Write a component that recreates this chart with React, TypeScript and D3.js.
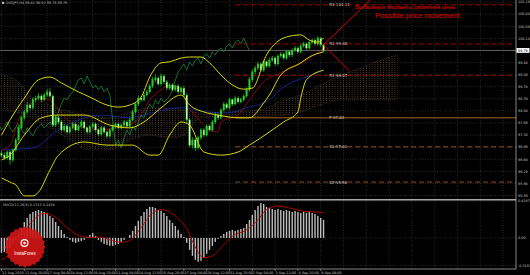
import React, { useEffect } from "react";
import * as d3 from "d3";

const opens = [96.80,96.76,96.68,96.85,96.62,96.91,97.20,97.55,97.84,98.01,98.21,98.13,98.36,98.41,98.47,98.36,98.50,98.59,98.47,97.63,97.84,97.72,97.49,97.60,97.43,97.55,97.66,97.49,97.60,97.72,97.55,97.43,97.58,97.66,97.49,97.37,97.55,97.43,97.31,97.49,97.58,97.66,97.55,97.63,97.72,97.60,97.78,98.01,98.24,98.41,98.36,98.50,98.59,98.76,98.94,98.99,98.82,99.05,98.88,98.70,98.79,98.65,98.76,98.59,98.70,98.50,97.78,97.05,97.20,96.97,97.26,97.49,97.34,97.60,97.49,97.72,97.92,97.84,98.07,98.24,98.13,98.36,98.24,98.41,98.30,98.36,98.47,98.65,98.94,99.17,99.28,99.40,99.22,99.46,99.34,99.51,99.57,99.40,99.63,99.69,99.57,99.75,99.66,99.80,99.86,99.75,99.92,99.98,99.86,100.03,100.09,99.98,100.15,99.95];
const highs = [96.88,96.84,96.90,96.92,96.96,97.26,97.62,97.90,98.08,98.30,98.26,98.42,98.48,98.55,98.52,98.56,98.68,98.70,98.52,97.92,97.90,97.78,97.66,97.65,97.60,97.72,97.70,97.64,97.78,97.76,97.58,97.63,97.72,97.70,97.53,97.60,97.58,97.46,97.53,97.63,97.70,97.70,97.68,97.78,97.76,97.84,98.08,98.30,98.48,98.46,98.56,98.66,98.82,99.02,99.10,99.04,99.12,99.10,98.94,98.85,98.84,98.80,98.82,98.75,98.76,98.55,97.84,97.28,97.25,97.32,97.55,97.54,97.66,97.65,97.78,98.00,97.96,98.12,98.30,98.28,98.42,98.40,98.48,98.46,98.42,98.52,98.72,99.02,99.24,99.35,99.46,99.44,99.52,99.50,99.58,99.63,99.62,99.68,99.74,99.72,99.80,99.80,99.85,99.92,99.90,99.97,100.04,100.02,100.08,100.14,100.13,100.20,100.18,99.98];
const lows = [96.70,96.62,96.63,96.48,96.56,96.86,97.15,97.50,97.78,97.96,98.07,98.08,98.30,98.36,98.30,98.32,98.44,98.42,97.58,97.58,97.66,97.44,97.44,97.38,97.38,97.50,97.44,97.45,97.55,97.50,97.38,97.38,97.53,97.44,97.31,97.32,97.38,97.26,97.27,97.44,97.53,97.50,97.50,97.58,97.55,97.55,97.73,97.96,98.18,98.30,98.31,98.45,98.54,98.70,98.88,98.77,98.78,98.82,98.64,98.65,98.60,98.60,98.54,98.53,98.44,97.70,96.98,96.95,96.88,96.92,97.20,97.28,97.30,97.44,97.44,97.66,97.78,97.80,98.02,98.08,98.08,98.18,98.20,98.25,98.26,98.31,98.42,98.60,98.88,99.10,99.22,99.16,99.17,99.28,99.29,99.46,99.34,99.35,99.58,99.52,99.52,99.60,99.60,99.75,99.70,99.70,99.87,99.80,99.82,99.98,99.93,99.93,99.90,99.74];
const closes = [96.76,96.68,96.85,96.62,96.91,97.20,97.55,97.84,98.01,98.21,98.13,98.36,98.41,98.47,98.36,98.50,98.59,98.47,97.63,97.84,97.72,97.49,97.60,97.43,97.55,97.66,97.49,97.60,97.72,97.55,97.43,97.58,97.66,97.49,97.37,97.55,97.43,97.31,97.49,97.58,97.66,97.55,97.63,97.72,97.60,97.78,98.01,98.24,98.41,98.36,98.50,98.59,98.76,98.94,98.99,98.82,99.05,98.88,98.70,98.79,98.65,98.76,98.59,98.70,98.50,97.78,97.05,97.20,96.97,97.26,97.49,97.34,97.60,97.49,97.72,97.92,97.84,98.07,98.24,98.13,98.36,98.24,98.41,98.30,98.36,98.47,98.65,98.94,99.17,99.28,99.40,99.22,99.46,99.34,99.51,99.57,99.40,99.63,99.69,99.57,99.75,99.66,99.80,99.86,99.75,99.92,99.98,99.86,100.03,100.09,99.98,100.15,99.95,99.79];

// Bollinger bands, read points [bar, price]
const bbUpper = [[0,97.34],[3,97.78],[8,98.41],[13,98.94],[17,99.02],[21,98.85],[27,98.59],[31,98.44],[37,98.21],[41,98.15],[45,98.21],[49,98.44],[52,99.02],[56,99.43],[59,99.46],[63,99.57],[66,99.60],[70,99.60],[73,99.43],[77,99.08],[80,98.85],[85,98.67],[88,98.70],[93,99.66],[100,100.18],[105,100.24],[108,100.09],[111,100.03],[113,100.15]];
const bbMiddle = [[0,96.62],[3,96.76],[8,97.34],[14,97.84],[20,97.92],[29,97.92],[38,97.63],[45,97.55],[50,97.72],[56,98.13],[63,98.50],[66,98.21],[71,98.01],[76,97.92],[83,97.84],[87,97.84],[92,98.27],[94,98.50],[98,99.08],[105,99.43],[108,99.60],[113,99.75]];
const bbLower = [[0,96.10],[3,95.98],[5,95.90],[8,95.58],[11,95.58],[13,95.69],[17,96.33],[20,96.76],[29,97.14],[37,97.05],[46,97.05],[52,96.76],[55,96.76],[59,97.34],[63,97.72],[66,97.63],[71,96.85],[77,96.76],[83,96.85],[87,97.05],[91,97.26],[94,97.43],[99,97.72],[104,98.01],[105,98.41],[107,98.94],[113,99.22]];
const tenkan = [[0,96.91],[3,97.05],[6,97.78],[10,98.21],[13,98.41],[17,98.36],[20,98.07],[24,97.72],[29,97.55],[35,97.49],[40,97.55],[45,97.63],[49,97.92],[52,98.36],[56,98.65],[59,98.79],[63,98.70],[65,98.21],[67,98.01],[70,97.72],[72,97.55],[76,97.43],[77,97.72],[83,97.92],[87,98.36],[92,98.88],[98,99.14],[106,99.46],[113,99.86]];
const kijun = [[0,96.91],[11,96.97],[20,97.49],[27,97.78],[35,97.92],[44,97.84],[50,97.92],[57,98.07],[63,98.13],[72,98.01],[79,97.98],[86,98.13],[94,98.36],[99,98.73],[104,98.94],[107,99.02],[113,99.22]];
const spanA = [[0,99.08],[5,98.94],[10,98.50],[17,98.21],[24,98.01],[31,97.92],[38,97.84],[45,98.01],[52,98.13],[59,98.13],[64,98.07],[70,97.98],[80,98.01],[91,98.07],[99,98.36],[105,98.50],[112,98.79],[119,99.08],[126,99.28],[133,99.51],[139,99.66]];
const spanB = [[0,98.07],[5,98.01],[10,97.84],[17,97.55],[24,97.20],[31,96.91],[38,96.91],[45,97.20],[52,97.34],[59,97.26],[64,97.34],[70,97.84],[80,97.84],[91,97.87],[99,97.92],[105,98.01],[112,98.21],[119,98.36],[126,98.36],[133,98.36],[139,98.36]];

const macdHist = [-0.174,-0.162,-0.139,-0.116,-0.070,-0.023,0.046,0.116,0.185,0.232,0.278,0.301,0.313,0.324,0.313,0.301,0.290,0.255,0.232,0.185,0.139,0.093,0.046,0.012,-0.023,-0.046,-0.058,-0.046,-0.035,-0.023,0.012,0.035,0.058,0.023,-0.023,-0.046,-0.070,-0.081,-0.093,-0.093,-0.081,-0.070,-0.046,-0.023,0.0,0.035,0.081,0.139,0.197,0.255,0.301,0.336,0.359,0.359,0.348,0.324,0.313,0.290,0.255,0.209,0.174,0.139,0.093,0.046,0.012,-0.058,-0.139,-0.209,-0.255,-0.278,-0.267,-0.232,-0.185,-0.139,-0.093,-0.046,-0.012,0.023,0.046,0.070,0.081,0.093,0.081,0.093,0.104,0.116,0.162,0.209,0.267,0.324,0.371,0.406,0.394,0.359,0.348,0.336,0.324,0.336,0.324,0.313,0.324,0.313,0.301,0.313,0.301,0.290,0.301,0.290,0.301,0.290,0.278,0.255,0.232,0.209];
const macdSignal = [[0,-0.255],[4,-0.150],[7,0.020],[11,0.200],[15,0.285],[18,0.260],[23,0.120],[27,0.030],[31,0.005],[35,0.010],[38,-0.023],[42,-0.050],[45,-0.030],[49,0.120],[53,0.290],[56,0.330],[60,0.280],[63,0.190],[65,0.110],[67,-0.040],[71,-0.230],[74,-0.210],[78,-0.080],[81,0.020],[86,0.093],[90,0.209],[93,0.330],[97,0.371],[101,0.348],[106,0.310],[111,0.300],[113,0.290]];

const timeLabels = ["12 Aug 2015","13 Aug 20:00","17 Aug 04:00","18 Aug 12:00","19 Aug 20:00","21 Aug 04:00","24 Aug 12:00","25 Aug 20:00","27 Aug 04:00","28 Aug 12:00","31 Aug 20:00","2 Sep 04:00","3 Sep 12:00","4 Sep 20:00","8 Sep 04:00"];
const priceTicks = [101.19,100.84,100.49,100.14,99.44,99.09,98.74,98.39,98.04,97.69,97.34,96.99,96.64,96.29,95.94,95.59];
const macdTicks = [0.4287, 0.0, -0.3197];
const macdTickLabels = ["0.4287", "0.00", "-0.3197"];
const pivotNames = ["R3","R2","R1","P","S1","S2"];
const pivotValues = [101.11,99.98,99.07,97.84,97.00,95.98];
const pivotColors = ["#b00000","#b00000","#b00000","#b87018","#9a5a28","#9a5a28"];
const currentPrice = 99.79;
// forecast path points [bar, price]
const forecastUp = [[113,99.95],[130,101.30]];
const forecastDown = [[113,99.95],[122,99.20]];

const FONT = "DejaVu Sans, sans-serif";

export default function App() {
  useEffect(() => {
    document.body.style.margin = "0";
    document.body.style.background = "#000";
  }, []);

  const x = d3.scaleLinear().domain([0, 180]).range([1.5, 514.5]);
  const y = d3.scaleLinear().domain([95.49, 101.25]).range([199, 0]);
  const ym = d3.scaleLinear().domain([-0.3615, 0.4287]).range([269, 201]);

  const line = (pts: number[][], sc = y) =>
    d3.line<number[]>().x(d => x(d[0])).y(d => sc(d[1])).curve(d3.curveMonotoneX)(pts) || "";

  const cloudArea = d3.area<number>()
    .x((_, i) => x(spanA[i][0]))
    .y0((_, i) => y(spanA[i][1]))
    .y1((_, i) => y(spanB[i][1]))
    .curve(d3.curveMonotoneX)(spanA.map(d => d[1])) || "";

  const chikou = d3.line<number>().x((_, i) => x(i - 26)).y(d => y(d))(closes) || "";

  const gridBars = d3.range(0, 181, 8);

  return (
    <svg width={530} height={275} style={{ position: "absolute", left: 0, top: 0, background: "#000", display: "block" }}>
      <defs>
        <pattern id="hatch" patternUnits="userSpaceOnUse" width={2.85} height={2} x={x(0) - 0.4}>
          <rect x={0} y={0} width={0.7} height={1} fill="#8a6448" />
        </pattern>
        <clipPath id="mainClip"><rect x={0} y={0} width={516} height={199} /></clipPath>
        <clipPath id="macdClip"><rect x={0} y={201} width={516} height={68} /></clipPath>
      </defs>
      <rect x={0} y={0} width={530} height={275} fill="#000" />

      {/* grid */}
      <g stroke="#444" strokeWidth={0.6} strokeDasharray="1,1.5">
        {gridBars.map(b => (
          <line key={"vg" + b} x1={x(b)} x2={x(b)} y1={0} y2={269} />
        ))}
        {priceTicks.map(p => (
          <line key={"hg" + p} x1={0} x2={516} y1={y(p)} y2={y(p)} />
        ))}
        {macdTicks.map(p => (
          <line key={"mg" + p} x1={0} x2={516} y1={ym(p)} y2={ym(p)} />
        ))}
      </g>

      <g clipPath="url(#mainClip)">
        {/* Ichimoku cloud */}
        <path d={cloudArea} fill="url(#hatch)" opacity={0.75} />
        <path d={line(spanA)} fill="none" stroke="#6e5040" strokeWidth={0.5} strokeDasharray="1,1" />
        <path d={line(spanB)} fill="none" stroke="#6e5040" strokeWidth={0.5} strokeDasharray="1,1" />

        {/* pivot lines */}
        {pivotValues.map((v, i) => (
          <g key={"pv" + i}>
            <line x1={x(82)} x2={516} y1={y(v)} y2={y(v)} stroke={pivotColors[i]} strokeWidth={0.9}
              strokeDasharray={pivotNames[i] === "P" ? "none" : "5,3"} />
            <text x={x(115)} y={y(v) + 1.5} fontSize={4} fill="#c8c8c8" fontFamily={FONT}>
              {pivotNames[i] + " " + v.toFixed(2)}
            </text>
          </g>
        ))}

        {/* current price line */}
        <line x1={0} x2={516} y1={y(currentPrice)} y2={y(currentPrice)} stroke="#8a8a8a" strokeWidth={0.7} />

        {/* indicator lines */}
        <path d={line(kijun)} fill="none" stroke="#1828b0" strokeWidth={0.8} />
        <path d={line(tenkan)} fill="none" stroke="#a00c0c" strokeWidth={0.8} />
        <path d={chikou} fill="none" stroke="#18883a" strokeWidth={0.8} />

        {/* candles */}
        {closes.map((c, i) => {
          const o = opens[i];
          const bull = c >= o;
          const top = y(Math.max(o, c));
          const bot = y(Math.min(o, c));
          return (
            <g key={"c" + i}>
              <line x1={x(i)} x2={x(i)} y1={y(highs[i])} y2={y(lows[i])} stroke="#22dd22" strokeWidth={0.7} />
              <rect x={x(i) - 0.8} y={top} width={1.6} height={Math.max(0.8, bot - top)}
                fill={bull ? "#2fc82f" : "#d8f8c8"} stroke="#22dd22" strokeWidth={0.3} />
            </g>
          );
        })}

        {/* Bollinger */}
        <path d={line(bbUpper)} fill="none" stroke="#d8d800" strokeWidth={1} />
        <path d={line(bbMiddle)} fill="none" stroke="#d8d800" strokeWidth={1} />
        <path d={line(bbLower)} fill="none" stroke="#d8d800" strokeWidth={1} />

        {/* forecast lines */}
        <path d={d3.line<number[]>().x(d => x(d[0])).y(d => y(d[1]))(forecastUp) || ""} stroke="#e00000" strokeWidth={1} fill="none" />
        <path d={d3.line<number[]>().x(d => x(d[0])).y(d => y(d[1]))(forecastDown) || ""} stroke="#e00000" strokeWidth={1} fill="none" />
      </g>

      {/* annotation */}
      <text x={355} y={9} fontSize={6.2} fill="#e00000" fontFamily="Liberation Sans, Arial, sans-serif" textLength={100} lengthAdjust="spacingAndGlyphs">Возможные варианты движения цены</text>
      <text x={375} y={18} fontSize={6.6} fill="#e00000" fontFamily="Liberation Sans, Arial, sans-serif" textLength={85} lengthAdjust="spacingAndGlyphs">Possible price movement</text>

      {/* header */}
      <rect x={2} y={1.8} width={2.2} height={2.2} fill="#bdbdbd" />
      <text x={6} y={4} fontSize={3.4} fill="#bdbdbd" fontFamily={FONT}>USDJPY,H4  99.82 99.92 99.79 99.79</text>

      {/* MACD */}
      <g clipPath="url(#macdClip)">
        {macdHist.map((v, i) => (
          <rect key={"h" + i} x={x(i) - 0.7} y={Math.min(ym(v), ym(0))} width={1.4}
            height={Math.abs(ym(v) - ym(0))} fill="#bdbdbd" />
        ))}
        <path d={line(macdSignal, ym)} fill="none" stroke="#c00000" strokeWidth={0.9} />
      </g>
      <text x={3} y={205.5} fontSize={3.4} fill="#bdbdbd" fontFamily={FONT}>MACD(12,26,9) 0.1313 0.1438</text>

      {/* logo */}
      <g>
        <path
          d={(d3.lineRadial<number>().angle((_, i) => (i * Math.PI) / 24).radius((_, i) => (i % 2 === 0 ? 20.5 : 18.8)).curve(d3.curveLinearClosed)(d3.range(48)) || "")}
          transform="translate(25,247)" fill="#d01515" opacity={0.92} />
        <circle cx={24.5} cy={243} r={4} fill="#fff" />
        <circle cx={24.5} cy={243} r={2.8} fill="#d01515" />
        <circle cx={24.5} cy={243} r={1.2} fill="#fff" />
        <text x={25} y={255} fontSize={4.6} fill="#fff" textAnchor="middle" fontFamily="Liberation Sans, Arial, sans-serif">InstaForex</text>
      </g>

      {/* frame */}
      <line x1={0} x2={516} y1={199.8} y2={199.8} stroke="#a8a8a8" strokeWidth={1.6} />
      <line x1={0} x2={516} y1={269} y2={269} stroke="#a8a8a8" strokeWidth={0.8} />
      <line x1={516} x2={516} y1={0} y2={269} stroke="#a8a8a8" strokeWidth={0.8} />

      {/* right axis */}
      {priceTicks.map(p => (
        <text key={"pt" + p} x={518} y={y(p) + 1.3} fontSize={3.4} fill="#c0c0c0" fontFamily={FONT}>{p.toFixed(2)}</text>
      ))}
      <rect x={516.5} y={y(currentPrice) - 2.4} width={13} height={4.8} fill="#ffffff" />
      <text x={518} y={y(currentPrice) + 1.3} fontSize={3.4} fill="#000" fontFamily={FONT}>{currentPrice.toFixed(2)}</text>
      {macdTicks.map((p, i) => (
        <text key={"mt" + p} x={518} y={ym(p) + 1.3} fontSize={3.4} fill="#c0c0c0" fontFamily={FONT}>{macdTickLabels[i]}</text>
      ))}

      {/* time axis */}
      {timeLabels.map((t, k) => (
        <g key={"tl" + k}>
          <line x1={x(k * 8)} x2={x(k * 8)} y1={269} y2={271} stroke="#a8a8a8" strokeWidth={0.6} />
          <text x={x(k * 8) + 0.5} y={273.5} fontSize={3.4} fill="#c0c0c0" fontFamily={FONT}>{t}</text>
        </g>
      ))}
    </svg>
  );
}
